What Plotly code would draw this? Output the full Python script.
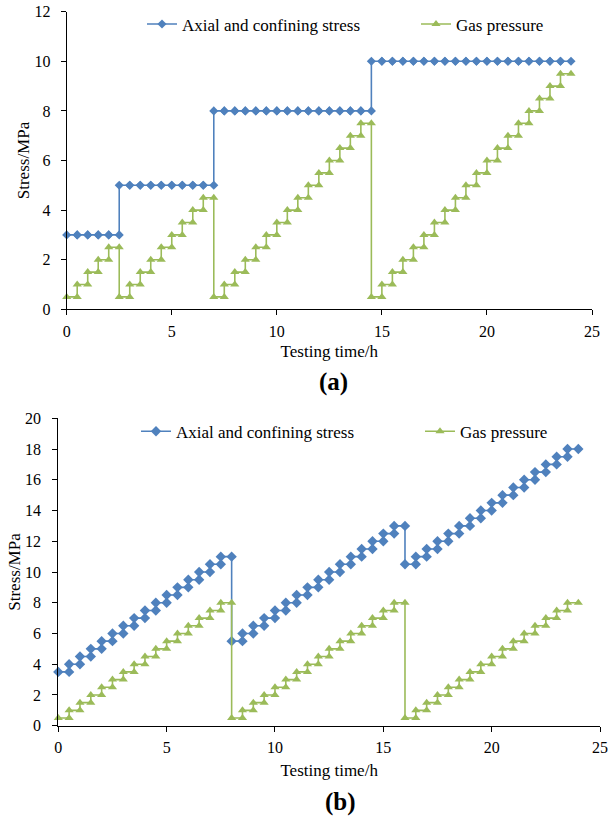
import plotly.graph_objects as go

# Step boundaries (h): each level below holds between consecutive boundaries
time_h = [0, 0.5, 1, 1.5, 2, 2.5, 3, 3.5, 4, 4.5, 5, 5.5, 6, 6.5, 7, 7.5, 8, 8.5, 9, 9.5,
          10, 10.5, 11, 11.5, 12, 12.5, 13, 13.5, 14, 14.5, 15, 15.5, 16, 16.5, 17, 17.5,
          18, 18.5, 19, 19.5, 20, 20.5, 21, 21.5, 22, 22.5, 23, 23.5, 24]

# Panel (a) levels (MPa)
axial_a = [3, 3, 3, 3, 3,
           5, 5, 5, 5, 5, 5, 5, 5, 5,
           8, 8, 8, 8, 8, 8, 8, 8, 8, 8, 8, 8, 8, 8, 8,
           10, 10, 10, 10, 10, 10, 10, 10, 10, 10, 10, 10, 10, 10, 10, 10, 10, 10, 10]
gas_a = [0.5, 1, 1.5, 2, 2.5,
         0.5, 1, 1.5, 2, 2.5, 3, 3.5, 4, 4.5,
         0.5, 1, 1.5, 2, 2.5, 3, 3.5, 4, 4.5, 5, 5.5, 6, 6.5, 7, 7.5,
         0.5, 1, 1.5, 2, 2.5, 3, 3.5, 4, 4.5, 5, 5.5, 6, 6.5, 7, 7.5, 8, 8.5, 9, 9.5]

# Panel (b) levels (MPa)
axial_b = [3.5, 4, 4.5, 5, 5.5, 6, 6.5, 7, 7.5, 8, 8.5, 9, 9.5, 10, 10.5, 11,
           5.5, 6, 6.5, 7, 7.5, 8, 8.5, 9, 9.5, 10, 10.5, 11, 11.5, 12, 12.5, 13,
           10.5, 11, 11.5, 12, 12.5, 13, 13.5, 14, 14.5, 15, 15.5, 16, 16.5, 17, 17.5, 18]
gas_b = [0.5, 1, 1.5, 2, 2.5, 3, 3.5, 4, 4.5, 5, 5.5, 6, 6.5, 7, 7.5, 8,
         0.5, 1, 1.5, 2, 2.5, 3, 3.5, 4, 4.5, 5, 5.5, 6, 6.5, 7, 7.5, 8,
         0.5, 1, 1.5, 2, 2.5, 3, 3.5, 4, 4.5, 5, 5.5, 6, 6.5, 7, 7.5, 8]

name_axial = "Axial and confining stress"
name_gas = "Gas pressure"
blue = "#4F81BD"
green = "#9BBB59"
FONT = "Liberation Serif"
W, H = 609, 817
TXT = 17
TICK = 16


def step_points(levels):
    xs, ys = [], []
    for i, v in enumerate(levels):
        xs += [time_h[i], time_h[i + 1]]
        ys += [v, v]
    return xs, ys


fig = go.Figure()

for levels, name, color, sym, msize, xa, ya, lg in [
    (axial_a, name_axial, blue, "diamond", 7, "x", "y", "legend"),
    (gas_a, name_gas, green, "triangle-up", 8, "x", "y", "legend2"),
    (axial_b, name_axial, blue, "diamond", 8, "x2", "y2", "legend3"),
    (gas_b, name_gas, green, "triangle-up", 8, "x2", "y2", "legend4"),
]:
    xs, ys = step_points(levels)
    fig.add_trace(go.Scatter(
        x=xs, y=ys, mode="lines+markers", name=name, showlegend=True,
        line=dict(color=color, width=1.6),
        marker=dict(symbol=sym, size=msize, color=color),
        xaxis=xa, yaxis=ya, legend=lg, cliponaxis=False,
    ))

axis_common = dict(
    showline=True, linecolor="black", linewidth=1, ticks="outside", ticklen=5,
    tickcolor="black", showgrid=False, zeroline=False, automargin=False,
    tickfont=dict(family=FONT, size=TICK, color="black"),
)


def leg(px_x, px_y):
    return dict(orientation="h", x=px_x / W, xanchor="left", y=1 - px_y / H,
                yanchor="middle", bgcolor="rgba(0,0,0,0)",
                font=dict(family=FONT, size=TXT, color="black"))


def ttl(text, standoff):
    return dict(text=text, standoff=standoff, font=dict(family=FONT, size=TXT))


fig.update_layout(
    width=W, height=H, showlegend=True,
    margin=dict(l=0, r=0, t=0, b=0, autoexpand=False),
    paper_bgcolor="white", plot_bgcolor="white",
    font=dict(family=FONT, size=TXT, color="black"),
    xaxis=dict(domain=[66.7 / W, 592 / W], range=[0, 25], dtick=5, anchor="y",
               ticklabelstandoff=2, title=ttl("Testing time/h", 6), **axis_common),
    yaxis=dict(domain=[1 - 309.3 / H, 1 - 11.7 / H], range=[0, 12], dtick=2, anchor="x",
               ticklabelstandoff=7, title=ttl("Stress/MPa", 0), **axis_common),
    xaxis2=dict(domain=[58.3 / W, 600 / W], range=[0, 25], dtick=5, anchor="y2",
                ticklabelstandoff=2, title=ttl("Testing time/h", 9), **axis_common),
    yaxis2=dict(domain=[1 - 725.7 / H, 1 - 418.3 / H], range=[0, 20], dtick=2, anchor="x2",
                ticklabelstandoff=8, title=ttl("Stress/MPa", 0), **axis_common),
    legend=leg(142, 24.5),
    legend2=leg(416, 24.5),
    legend3=leg(136, 431.7),
    legend4=leg(420, 431.7),
    annotations=[
        dict(text="<b>(a)</b>", x=333 / W, y=1 - 381.7 / H, xref="paper",
             yref="paper", showarrow=False, yanchor="middle",
             font=dict(family=FONT, size=25)),
        dict(text="<b>(b)</b>", x=340 / W, y=1 - 801.7 / H, xref="paper",
             yref="paper", showarrow=False, yanchor="middle",
             font=dict(family=FONT, size=25)),
    ],
)

fig.write_html("out.html", config={"displayModeBar": False},
               post_script="document.body.style.margin='0';document.body.style.overflow='hidden';")
